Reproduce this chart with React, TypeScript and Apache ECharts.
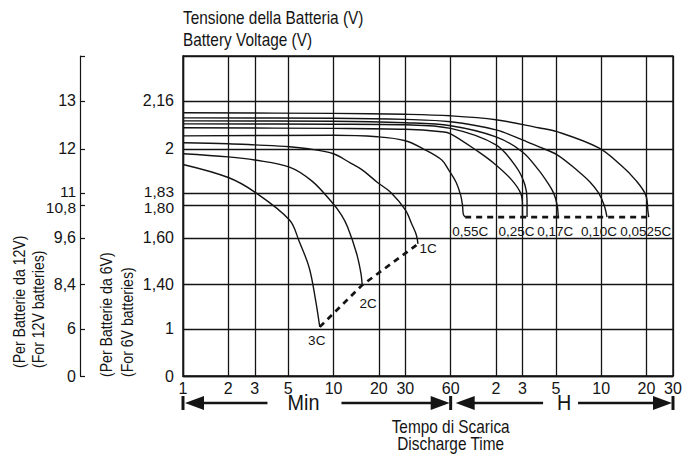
import React, { useEffect, useRef } from "react";
import * as echarts from "echarts";

const FONT = "'Liberation Sans', Arial, sans-serif";
const INK = "#141414";

// time axis ticks, minutes (1 min ... 30 h)
const timeTicks = [1, 2, 3, 5, 10, 20, 30, 60, 120, 180, 300, 600, 1200, 1800];

// cell-voltage scale of the chart (non-linear) : voltage knots and their row on the drawing
const cellVolts = [0, 1, 1.4, 1.6, 1.8, 1.83, 2, 2.16, 2.32];
const tickRows = [0, 1.03, 2.01, 3.02, 3.74, 4, 4.97, 6.02, 7];
const cellLabels = ["0", "1", "1,40", "1,60", "1,80", "1,83", "2", "2,16", ""];
const batt12Labels = ["0", "6", "8,4", "9,6", "10,8", "11", "12", "13", ""];

// discharge curves: time (min) and cell voltage (V)
const t0525 = [1, 10, 30, 60, 120, 230, 306, 578, 823, 1016, 1187, 1228, 1242];
const v0525 = [2.12, 2.118, 2.115, 2.11, 2.097, 2.07, 2.057, 2.003, 1.934, 1.88, 1.825, 1.758, 1.727];
const t010 = [1, 10, 30, 60, 120, 180, 230, 306, 420, 507, 578, 627, 656];
const v010 = [2.103, 2.102, 2.098, 2.09, 2.063, 2.03, 2.007, 1.977, 1.915, 1.872, 1.83, 1.8, 1.727];
const t017 = [1, 10, 30, 60, 120, 180, 230, 265, 290, 306, 311];
const v017 = [2.093, 2.092, 2.087, 2.077, 2.04, 1.988, 1.919, 1.869, 1.83, 1.8, 1.727];
const tAux = [1, 10, 30, 60, 120, 165, 187, 193, 193];
const vAux = [2.083, 2.082, 2.08, 2.068, 2.013, 1.927, 1.861, 1.813, 1.727];
const t025 = [1, 10, 30, 52, 60, 92, 120, 153, 175, 180, 180];
const v025 = [2.07, 2.068, 2.065, 2.057, 2.05, 1.988, 1.938, 1.88, 1.83, 1.8, 1.727];
const t055 = [1, 10, 19.5, 30, 40.6, 52.4, 58.2, 65.2, 69.9, 71.9, 72.8, 74.9];
const v055 = [2.043, 2.045, 2.04, 2.027, 1.996, 1.957, 1.919, 1.872, 1.825, 1.8, 1.745, 1.727];
const t1C = [1, 2, 3, 5.1, 6.8, 10, 12.9, 15.5, 19.5, 24.3, 30, 33.3, 35.5, 36.4];
const v1C = [2.02, 2.017, 2.013, 2.007, 2.0, 1.981, 1.946, 1.919, 1.872, 1.83, 1.77, 1.679, 1.618, 1.574];
const t2C = [1, 2, 3, 5.1, 7.2, 9.85, 11.3, 12.4, 14.2, 15.2, 15.5];
const v2C = [1.981, 1.969, 1.957, 1.93, 1.876, 1.805, 1.739, 1.667, 1.535, 1.448, 1.391];
const t3C = [1, 2, 3, 5.1, 5.9, 6.9, 7.6, 8.1];
const v3C = [1.94, 1.89, 1.834, 1.709, 1.587, 1.47, 1.258, 1.018];

function voltToRow(v: number): number {
  for (let i = 1; i < cellVolts.length; i++) {
    if (v <= cellVolts[i]) {
      const f = (v - cellVolts[i - 1]) / (cellVolts[i] - cellVolts[i - 1]);
      return tickRows[i - 1] + f * (tickRows[i] - tickRows[i - 1]);
    }
  }
  return tickRows[tickRows.length - 1];
}

// the two closely spaced ticks (1,80 / 1,83) get their labels nudged apart slightly
function rowLabel(labels: string[]) {
  return (val: number) => {
    for (let i = 0; i < tickRows.length; i++) {
      if (Math.abs(tickRows[i] - val) < 1e-6) {
        if (i === 4) return "{d|" + labels[i] + "}";
        if (i === 5) return "{u|" + labels[i] + "}";
        return labels[i];
      }
    }
    return "";
  };
}
const nudgeRich = {
  u: { fontFamily: FONT, fontSize: 15.5, color: INK, padding: [0, 0, 4, 0] },
  d: { fontFamily: FONT, fontSize: 15.5, color: INK, padding: [4, 0, 0, 0] },
};

type Curve = { name: string; t: number[]; v: number[]; pos: string; dist: number; off: [number, number] };
const curves: Curve[] = [
  { name: "0,0525C", t: t0525, v: v0525, pos: "bottom", dist: 7, off: [-3, 0] },
  { name: "0,10C", t: t010, v: v010, pos: "bottom", dist: 7, off: [-8, 0] },
  { name: "0,17C", t: t017, v: v017, pos: "bottom", dist: 7, off: [-3, 0] },
  { name: "", t: tAux, v: vAux, pos: "bottom", dist: 7, off: [0, 0] },
  { name: "0,25C", t: t025, v: v025, pos: "bottom", dist: 7, off: [-6, 0] },
  { name: "0,55C", t: t055, v: v055, pos: "bottom", dist: 7, off: [5, 0] },
  { name: "1C", t: t1C, v: v1C, pos: "right", dist: 1, off: [0, 5] },
  { name: "2C", t: t2C, v: v2C, pos: "bottom", dist: 11, off: [6, 0] },
  { name: "3C", t: t3C, v: v3C, pos: "bottom", dist: 6, off: [-3, 0] },
];

const pt = (c: Curve, i: number) => [c.t[i], voltToRow(c.v[i])];
const lastPt = (c: Curve) => pt(c, c.t.length - 1);

export default function App() {
  const ref = useRef<HTMLDivElement>(null);
  useEffect(() => {
    if (!ref.current) return;
    const chart = echarts.init(ref.current, undefined, { renderer: "svg" });

    const curveSeries = curves.map((c) => ({
      type: "line",
      name: c.name,
      data: c.t.map((_, i) => pt(c, i)),
      showSymbol: false,
      symbol: "none",
      smooth: 0.35,
      silent: true,
      lineStyle: { color: INK, width: 1.4 },
      markPoint: c.name
        ? {
            symbol: "circle",
            symbolSize: 1,
            silent: true,
            itemStyle: { color: "rgba(0,0,0,0)" },
            label: {
              show: true,
              formatter: c.name,
              position: c.pos,
              distance: c.dist,
              offset: c.off,
              color: INK,
              fontFamily: FONT,
              fontSize: 13.5,
            },
            data: [{ coord: lastPt(c) }],
          }
        : undefined,
    }));

    const byName = (n: string) => curves.find((c) => c.name === n)!;
    const dashLow = [lastPt(byName("3C")), lastPt(byName("2C")), lastPt(byName("1C"))];
    const dashHigh = [lastPt(byName("0,55C")), lastPt(byName("0,0525C"))];

    const dashStyle = { color: INK, width: 2.7, type: [6, 5] };

    const option: any = {
      animation: false,
      backgroundColor: "#ffffff",
      grid: {
        left: 183,
        right: 18,
        top: 56,
        bottom: 79,
        show: true,
        borderColor: INK,
        borderWidth: 1.4,
        outerBoundsMode: "none",
      },
      xAxis: {
        type: "log",
        logBase: 10,
        min: 1,
        max: 1800,
        axisLine: { show: true, lineStyle: { color: INK, width: 1.4 } },
        axisTick: { show: false, customValues: timeTicks },
        minorTick: { show: false },
        axisLabel: {
          customValues: timeTicks,
          hideOverlap: false,
          margin: 4,
          color: INK,
          fontFamily: FONT,
          fontSize: 16,
          formatter: (v: number) => {
            const r = Math.round(v);
            return r <= 60 ? String(r) : String(Math.round(r / 60));
          },
        },
        splitLine: { show: true, lineStyle: { color: INK, width: 1.3 } },
      },
      yAxis: [
        {
          type: "value",
          min: 0,
          max: 7,
          position: "left",
          axisLine: { show: true, lineStyle: { color: INK, width: 1.4 } },
          axisTick: { show: false, customValues: tickRows },
          axisLabel: {
            customValues: tickRows.slice(0, 8),
            hideOverlap: false,
            margin: 9,
            color: INK,
            fontFamily: FONT,
            fontSize: 16,
            formatter: rowLabel(cellLabels),
            rich: nudgeRich,
          },
          splitLine: { show: true, lineStyle: { color: INK, width: 1.3 } },
        },
        {
          type: "value",
          min: 0,
          max: 7,
          position: "left",
          offset: 103,
          axisLine: { show: true, lineStyle: { color: INK, width: 1.2 } },
          axisTick: { show: true, inside: true, length: 5, customValues: tickRows, lineStyle: { color: INK, width: 1.2 } },
          axisLabel: {
            customValues: tickRows,
            hideOverlap: false,
            margin: 4,
            color: INK,
            fontFamily: FONT,
            fontSize: 16,
            formatter: rowLabel(batt12Labels),
            rich: nudgeRich,
          },
          splitLine: { show: false },
        },
      ],
      series: [
        ...curveSeries,
        { type: "line", data: dashLow, symbol: "none", silent: true, lineStyle: dashStyle },
        { type: "line", data: dashHigh, symbol: "none", silent: true, lineStyle: dashStyle },
      ],
    };
    chart.setOption(option);

    const px = (m: number) => chart.convertToPixel({ xAxisIndex: 0 }, m) as unknown as number;
    const py = (r: number) => chart.convertToPixel({ yAxisIndex: 0 }, r) as unknown as number;
    const xL = px(timeTicks[0]);
    const xM = px(60);
    const xR = px(timeTicks[timeTicks.length - 1]);
    const yB = py(0);
    const yT = py(7);
    const ay = yB + 27;

    const txt = (text: string, x: number, y: number, size: number, align = "left", rot = 0, sx = 0.855) => ({
      type: "text",
      x,
      y,
      rotation: rot,
      scaleX: sx,
      silent: true,
      style: { text, fill: INK, fontFamily: FONT, fontSize: size, lineHeight: size - 2, align, verticalAlign: "middle" },
    });
    const seg = (x1: number, y1: number, x2: number, y2: number, w = 2.6) => ({
      type: "line",
      silent: true,
      shape: { x1, y1, x2, y2 },
      style: { stroke: INK, lineWidth: w },
    });
    const head = (tip: number, dir: number) => ({
      type: "polygon",
      silent: true,
      shape: { points: [[tip, ay], [tip + dir * 19, ay - 7], [tip + dir * 19, ay + 7]] },
      style: { fill: INK },
    });
    const cMin = xL + (xM - xL) * 0.45;
    const cH = xM + (xR - xM) * 0.51;

    const graphic = [
      txt("Tensione della Batteria (V)", xL, yT - 37.5, 18),
      txt("Battery Voltage (V)", xL, yT - 15.5, 18),
      txt("Tempo di Scarica", xM, yB + 51.5, 18, "center"),
      txt("Discharge Time", xM, yB + 68.5, 18, "center"),
      txt("(Per Batterie da 12V)", 19, 368, 17, "left", Math.PI / 2, 0.83),
      txt("(For 12V batteries)", 38, 368, 17, "left", Math.PI / 2, 0.83),
      txt("(Per Batterie da 6V)", 106.5, 377, 17, "left", Math.PI / 2, 0.83),
      txt("(For 6V batteries)", 127, 377, 17, "left", Math.PI / 2, 0.83),
      // Min arrows
      seg(xL, ay - 7, xL, ay + 7, 3),
      head(xL + 2, 1),
      seg(xL + 18, ay, cMin - 36, ay),
      txt("Min", cMin, ay - 1, 22, "center", 0, 0.9),
      seg(cMin + 38, ay, xM - 17, ay),
      head(xM - 1, -1),
      seg(xM, ay - 7, xM, ay + 7, 3),
      // H arrows
      head(xM + 5, 1),
      seg(xM + 21, ay, cH - 21, ay),
      txt("H", cH, ay - 1, 22, "center", 0, 0.9),
      seg(cH + 14, ay, xR - 17, ay),
      head(xR - 1, -1),
      seg(xR, ay - 7, xR, ay + 7, 3),
    ];
    chart.setOption({ graphic });

    return () => chart.dispose();
  }, []);
  return (
    <div
      ref={ref}
      style={{ position: "absolute", left: 0, top: 0, width: 691, height: 455 }}
    />
  );
}
